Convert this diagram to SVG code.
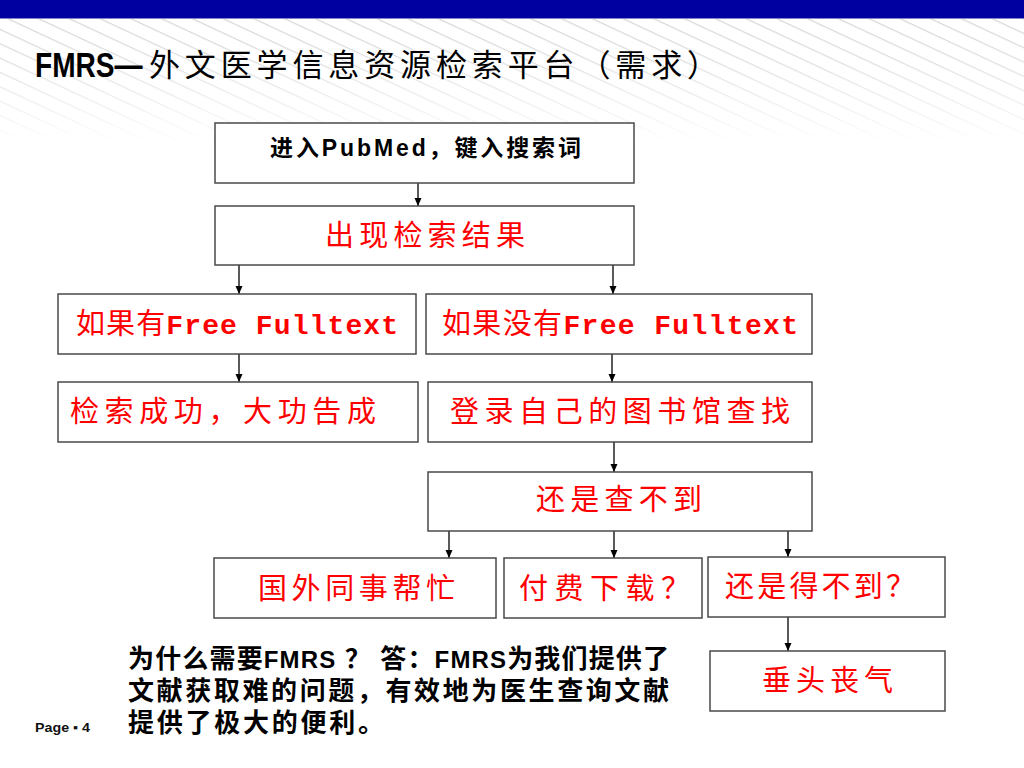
<svg xmlns="http://www.w3.org/2000/svg" width="1024" height="768" viewBox="0 0 1024 768">
<defs>
  <style>
    .box{fill:#ffffff;stroke:#4a4a4a;stroke-width:1.5}
    .red{fill:#ff0000;font-family:"Liberation Mono","Noto Sans CJK SC",monospace;font-size:29px}
    .red .lat{font-weight:bold;font-size:28px}
    .blk{fill:#000;font-family:"Liberation Sans","Noto Sans CJK SC",sans-serif;font-weight:bold}
    .conn line{stroke:#000;stroke-width:1.3;marker-end:url(#arr)}
  </style>
  <marker id="arr" markerUnits="userSpaceOnUse" markerWidth="9" markerHeight="8" refX="8" refY="3.5" orient="auto">
    <path d="M0,0 L8,3.5 L0,7 z" fill="#000"/>
  </marker>
  <pattern id="diag" width="13" height="13" patternUnits="userSpaceOnUse" patternTransform="rotate(25)">
    <line x1="0" y1="0.6" x2="13" y2="0.6" stroke="#d6d6d6" stroke-width="1.2"/>
  </pattern>
  <linearGradient id="fade" x1="0" y1="0" x2="0" y2="1">
    <stop offset="0" stop-color="#fff" stop-opacity="0"/>
    <stop offset="0.35" stop-color="#fff" stop-opacity="0.2"/>
    <stop offset="1" stop-color="#fff" stop-opacity="1"/>
  </linearGradient>
</defs>
<rect x="0" y="0" width="1024" height="768" fill="#ffffff"/>
<rect x="0" y="19" width="1024" height="125" fill="url(#diag)"/>
<rect x="0" y="19" width="1024" height="125" fill="url(#fade)"/>
<rect x="0" y="0" width="1024" height="18" fill="#0000a0"/>
<line x1="0" y1="18.5" x2="1024" y2="18.5" stroke="#7f86c8" stroke-width="1"/>

<g id="title">
  <text transform="translate(35,77) scale(0.78,1)" x="0" y="0" font-family="'Liberation Sans',sans-serif" font-weight="bold" font-size="36">FMRS—</text>
  <text x="149" y="76" font-family="'Noto Sans CJK SC',sans-serif" font-size="31" textLength="569">外文医学信息资源检索平台（需求）</text>
</g>

<g class="conn" id="connectors">
  <line x1="418" y1="183" x2="418" y2="206"/>
  <line x1="239" y1="265" x2="239" y2="294"/>
  <line x1="613" y1="265" x2="613" y2="294"/>
  <line x1="239" y1="354" x2="239" y2="382"/>
  <line x1="612" y1="354" x2="612" y2="382"/>
  <line x1="614" y1="442" x2="614" y2="472"/>
  <line x1="449" y1="531" x2="449" y2="558"/>
  <line x1="614" y1="531" x2="614" y2="558"/>
  <line x1="788" y1="531" x2="788" y2="557"/>
  <line x1="788" y1="617" x2="788" y2="651"/>
</g>

<g id="n1"><rect class="box" x="215" y="123" width="419" height="60"/>
  <text class="blk" x="270" y="156" font-size="23" textLength="311">进入PubMed，键入搜索词</text></g>
<g id="n2"><rect class="box" x="215" y="206" width="419" height="59"/>
  <text class="red" x="325" y="246" textLength="200">出现检索结果</text></g>
<g id="n3"><rect class="box" x="58" y="294" width="358" height="60"/>
  <text class="red" x="76" y="334" textLength="322">如果有<tspan class="lat">Free Fulltext</tspan></text></g>
<g id="n4"><rect class="box" x="426" y="294" width="386" height="60"/>
  <text class="red" x="442" y="334" textLength="356">如果没有<tspan class="lat">Free Fulltext</tspan></text></g>
<g id="n5"><rect class="box" x="58" y="382" width="360" height="60"/>
  <text class="red" x="70" y="422" textLength="306">检索成功，大功告成</text></g>
<g id="n6"><rect class="box" x="428" y="382" width="384" height="60"/>
  <text class="red" x="450" y="422" textLength="340">登录自己的图书馆查找</text></g>
<g id="n7"><rect class="box" x="428" y="472" width="384" height="59"/>
  <text class="red" x="536" y="510" textLength="166">还是查不到</text></g>
<g id="n8"><rect class="box" x="214" y="558" width="282" height="60"/>
  <text class="red" x="258" y="599" textLength="197">国外同事帮忙</text></g>
<g id="n9"><rect class="box" x="504" y="558" width="198" height="60"/>
  <text class="red" x="519" y="599" textLength="171">付费下载？</text></g>
<g id="n10"><rect class="box" x="708" y="557" width="237" height="60"/>
  <text class="red" x="725" y="597" textLength="190">还是得不到？</text></g>
<g id="n11"><rect class="box" x="710" y="651" width="235" height="60"/>
  <text class="red" x="762" y="691" textLength="131">垂头丧气</text></g>

<g id="note" class="blk" font-size="26">
  <text x="128" y="668" textLength="541">为什么需要<tspan font-family="'Liberation Sans Narrow','Liberation Sans',sans-serif" font-size="24">FMRS</tspan> ？ 答：<tspan font-family="'Liberation Sans Narrow','Liberation Sans',sans-serif" font-size="24">FMRS</tspan>为我们提供了</text>
  <text x="128" y="700" textLength="541">文献获取难的问题，有效地为医生查询文献</text>
  <text x="128" y="732" textLength="256">提供了极大的便利。</text>
</g>
<text x="35" y="732" font-family="'Liberation Sans Narrow','Liberation Sans',sans-serif" font-size="13" font-weight="bold" fill="#111" textLength="55" lengthAdjust="spacingAndGlyphs">Page ▪ 4</text>
</svg>
